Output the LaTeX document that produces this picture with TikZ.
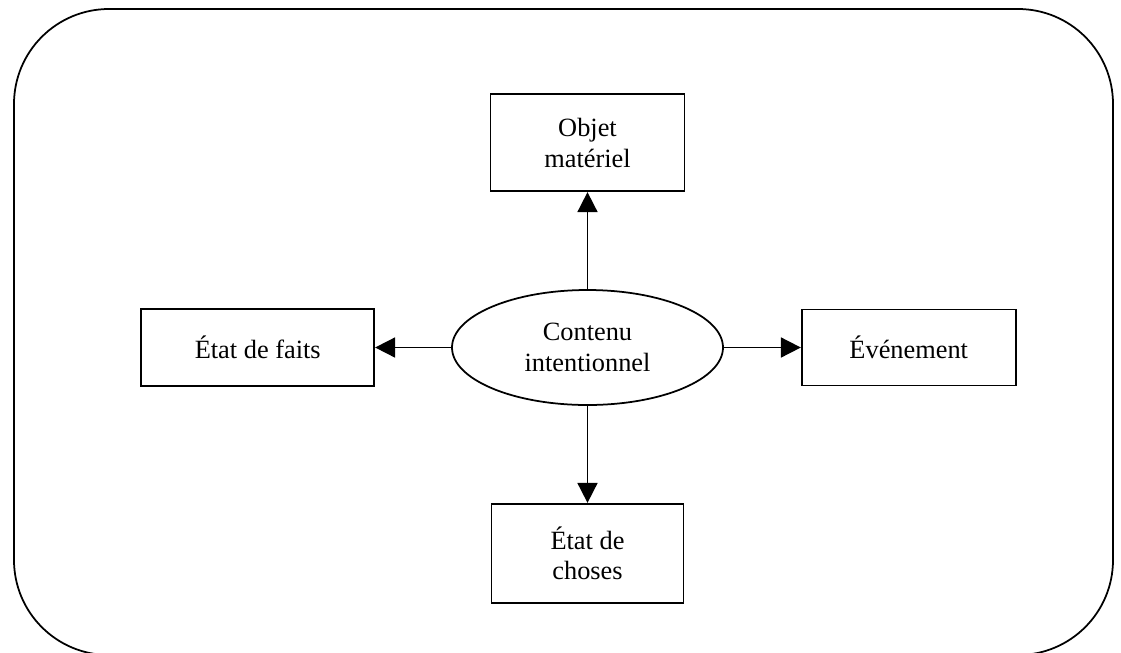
\documentclass[tikz,border=0pt]{standalone}
\usepackage{fontspec}
\setmainfont{Liberation Serif}
\usetikzlibrary{positioning,shapes.geometric,arrows.meta}

\begin{document}
\begin{tikzpicture}[->,>={Triangle[length=4mm,width=4mm]},line width=1pt,node distance=1.94cm,
	font=\fontsize{15}{17.5}\selectfont,
	boite/.style={draw,rectangle,align=center,inner sep=0pt},
	bulle/.style={draw,ellipse,align=center,inner sep=0pt,minimum width=5.42cm,minimum height=2.3cm}]
	\useasboundingbox (0,0) rectangle (22.42,-13.04);
	\draw[-,rounded corners=1.9cm] (0.28,-0.18) rectangle (22.26,-13.1);

	\node[bulle] (contenu) at (11.75,-6.95) {Contenu\\intentionnel};
	\node[boite,minimum width=3.88cm,minimum height=1.94cm] (objet) [above=of contenu] {Objet\\matériel};
	\node[boite,minimum width=3.84cm,minimum height=1.98cm] (choses) [below=of contenu] {État de\\choses};
	\node[boite,minimum width=4.66cm,minimum height=1.54cm] (faits) [left=1.52cm of contenu] {État de faits};
	\node[boite,minimum width=4.28cm,minimum height=1.52cm] (evenement) [right=1.54cm of contenu] {Événement};

	\draw 	(contenu) edge (objet)
			(contenu) edge (choses)
			(contenu) edge (faits)
			(contenu) edge (evenement);
\end{tikzpicture}
\end{document}
